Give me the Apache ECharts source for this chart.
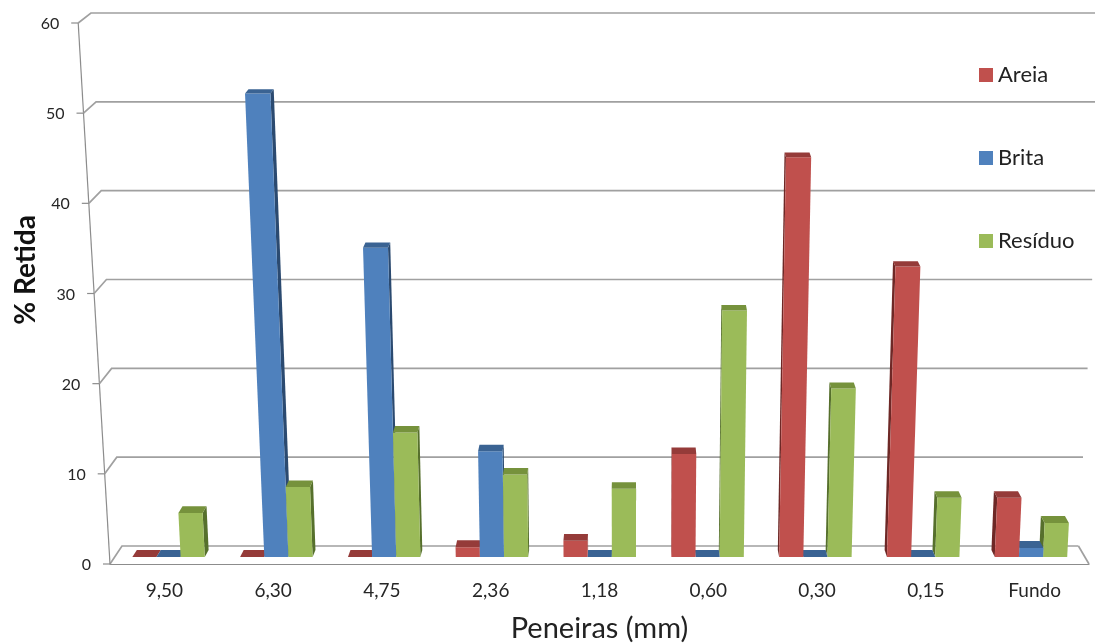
<!DOCTYPE html>
<html>
<head>
<meta charset="utf-8">
<script src="https://cdn.jsdelivr.net/npm/echarts@6/dist/echarts.min.js"></script>
<style>
  html, body { margin: 0; padding: 0; background: #ffffff; }
  #chart { width: 1095px; height: 644px; }
</style>
</head>
<body>
<div id="chart"></div>
<script>
// Sieve sizes and % retained per material
const categories = ['9,50', '6,30', '4,75', '2,36', '1,18', '0,60', '0,30', '0,15', 'Fundo'];
const areia   = [0, 0, 0, 1.1, 1.8, 11.5, 44.6, 32.4, 6.6];
const brita   = [0, 51.7, 34.5, 11.8, 0, 0, 0, 0, 1.0];
const residuo = [4.9, 7.8, 13.9, 9.2, 7.6, 27.5, 18.8, 6.6, 3.8];
const yTicks  = [0, 10, 20, 30, 40, 50, 60];

const seriesNames = ['Areia', 'Brita', 'Resíduo'];
const seriesData  = [areia, brita, residuo];
// [front, top, side] shades for each material
const palette = [
  ['#C0504D', '#953B39', '#6E2826'],
  ['#4F81BD', '#3A6393', '#2B4A70'],
  ['#9BBB59', '#76923C', '#56702C']
];

const FONT = 'Lato, "Open Sans", sans-serif';

// Perspective: depth pulls points toward (VX, VY); vertical edges lean away from VX.
const VX = 630, DEPTH_X = 0.023;
const VY = -651, DEPTH_Y = 0.0148;
const LEAN = 1.13e-4;
const BAR_FRONT = 0.39, BAR_BACK = 0.78;

function project(cs, xf, yf, z) {
  const base = cs.y + cs.height;
  const h = base - yf;
  const xl = VX + (xf - VX) * (1 + LEAN * h);
  return [VX + (xl - VX) * (1 - DEPTH_X * z), VY + (yf - VY) * (1 - DEPTH_Y * z)];
}

// Back wall, floor edges, left axis and its labels
function renderFrame(params, api) {
  const cs = params.coordSys;
  const v = api.value(1);
  const yf = api.coord([0, v])[1];
  const left = cs.x, right = cs.x + cs.width, base = cs.y + cs.height;
  const lineStyle = { stroke: '#a0a0a0', lineWidth: 1.7, fill: null };
  const f0 = project(cs, left, yf, 0);
  const b0 = project(cs, left, yf, 1);
  const b1 = project(cs, right, yf, 1);
  const children = [
    { type: 'polyline', shape: { points: [f0, b0, b1] }, style: lineStyle },
    { type: 'line', shape: { x1: f0[0] - 7, y1: f0[1], x2: f0[0], y2: f0[1] }, style: { stroke: '#8c8c8c', lineWidth: 1.2 } },
    { type: 'text', x: f0[0] - 19, y: f0[1] + 1,
      style: { text: String(v), align: 'right', verticalAlign: 'middle', fill: '#262626', font: '16px ' + FONT } }
  ];
  if (params.dataIndex === 0) {
    const a0 = project(cs, left, base, 0);
    const a1 = project(cs, left, cs.y, 0);
    children.push({ type: 'line', shape: { x1: a0[0], y1: a0[1], x2: a1[0], y2: a1[1] }, style: { stroke: '#8c8c8c', lineWidth: 1.2 } });
    const r0 = project(cs, right, base, 0);
    const r1 = project(cs, right, base, 1);
    children.push({ type: 'line', shape: { x1: r0[0], y1: r0[1], x2: r1[0], y2: r1[1] }, style: { stroke: '#a0a0a0', lineWidth: 1.7 } });
  }
  return { type: 'group', children: children };
}

// 3D-looking columns: side, front and top faces
function makeBarRenderer(k) {
  return function (params, api) {
    const cs = params.coordSys;
    const i = api.value(0), v = api.value(1);
    const cx = api.coord([i, 0])[0];
    const base = api.coord([i, 0])[1];
    const yv = api.coord([i, v])[1];
    const bw = api.size([1, 0])[0];
    const w = bw * 0.224;
    const xl = cx - 1.5 * w + k * w, xr = xl + w;
    const P = (x, y, z) => project(cs, x, y, z);
    const cols = palette[k];
    const mid = (xl + xr) / 2;
    const zb = Math.round(1000 - Math.abs(mid - VX));
    const sx = mid < VX ? xr : xl;
    return {
      type: 'group',
      children: [
        { type: 'polygon', z2: zb,
          shape: { points: [P(sx, base, BAR_FRONT), P(sx, base, BAR_BACK), P(sx, yv, BAR_BACK), P(sx, yv, BAR_FRONT)] },
          style: { fill: cols[2] } },
        { type: 'polygon', z2: zb + 0.2,
          shape: { points: [P(xl, base, BAR_FRONT), P(xr, base, BAR_FRONT), P(xr, yv, BAR_FRONT), P(xl, yv, BAR_FRONT)] },
          style: { fill: cols[0] } },
        { type: 'polygon', z2: zb + 0.4,
          shape: { points: [P(xl, yv, BAR_FRONT), P(xr, yv, BAR_FRONT), P(xr, yv, BAR_BACK), P(xl, yv, BAR_BACK)] },
          style: { fill: cols[1] } }
      ]
    };
  };
}

const chart = echarts.init(document.getElementById('chart'));

const series = [{
  type: 'custom',
  renderItem: renderFrame,
  data: yTicks.map(v => [0, v]),
  clip: false,
  silent: true,
  z: 1
}];
seriesData.forEach((arr, k) => {
  series.push({
    name: seriesNames[k],
    type: 'custom',
    renderItem: makeBarRenderer(k),
    data: arr.map((v, i) => [i, v]),
    itemStyle: { color: palette[k][0] },
    clip: false,
    z: 2
  });
});

chart.setOption({
  animation: false,
  backgroundColor: '#ffffff',
  textStyle: { fontFamily: FONT },
  grid: { left: 110, right: 6, top: 23, bottom: 80, containLabel: false, outerBoundsMode: 'none' },
  legend: {
    data: seriesNames,
    orient: 'vertical',
    left: 974,
    top: 59,
    itemWidth: 14,
    itemHeight: 14,
    itemGap: 61,
    itemTextGap: 8,
    icon: 'rect',
    textStyle: { fontSize: 22, lineHeight: 22, color: '#222222', fontFamily: FONT }
  },
  xAxis: {
    type: 'category',
    data: categories,
    name: 'Peneiras (mm)',
    nameLocation: 'middle',
    nameGap: 50,
    nameTextStyle: { fontSize: 29, color: '#222222', fontFamily: FONT, verticalAlign: 'top' },
    axisLine: { lineStyle: { color: '#8c8c8c', width: 1.2 } },
    axisTick: { length: 8, lineStyle: { color: '#8c8c8c', width: 1.2 } },
    axisLabel: { margin: 17, fontSize: 19, color: '#262626', fontFamily: FONT },
    splitLine: { show: false }
  },
  yAxis: {
    type: 'value',
    min: 0,
    max: 60,
    interval: 10,
    show: false
  },
  graphic: [{
    type: 'text',
    x: 26,
    y: 270,
    rotation: Math.PI / 2,
    style: {
      text: '% Retida',
      align: 'center',
      verticalAlign: 'middle',
      fill: '#111111',
      font: 'bold 28px ' + FONT
    }
  }],
  series: series
});
</script>
</body>
</html>
